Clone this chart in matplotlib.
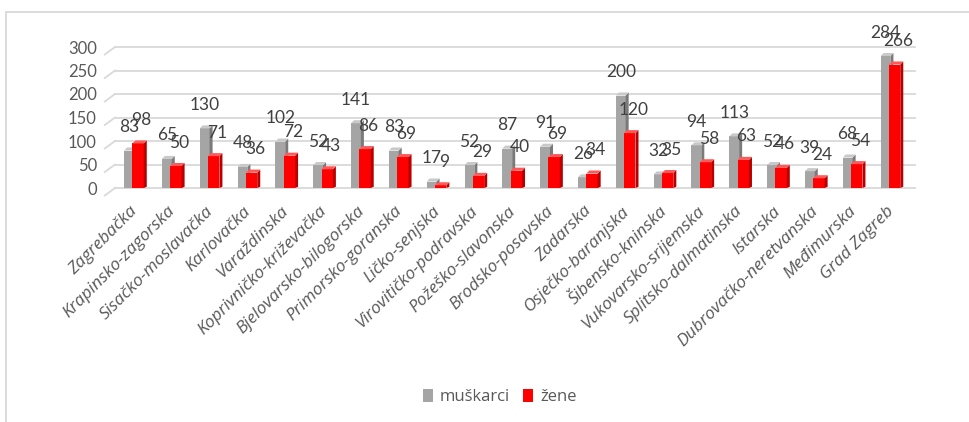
import matplotlib
matplotlib.use('Agg')
import matplotlib.pyplot as plt
from matplotlib.patches import Polygon, Rectangle

# podaci po zupanijama
zupanije = ['Zagrebačka', 'Krapinsko-zagorska', 'Sisačko-moslavačka', 'Karlovačka',
            'Varaždinska', 'Koprivničko-križevačka', 'Bjelovarsko-bilogorska',
            'Primorsko-goranska', 'Ličko-senjska', 'Virovitičko-podravska',
            'Požeško-slavonska', 'Brodsko-posavska', 'Zadarska', 'Osječko-baranjska',
            'Šibensko-kninska', 'Vukovarsko-srijemska', 'Splitsko-dalmatinska',
            'Istarska', 'Dubrovačko-neretvanska', 'Međimurska', 'Grad Zagreb']
muskarci = [83, 65, 130, 48, 102, 52, 141, 83, 17, 52, 87, 91, 26, 200, 32, 94, 113, 52, 39, 68, 284]
zene = [98, 50, 71, 36, 72, 43, 86, 69, 9, 29, 40, 69, 34, 120, 35, 58, 63, 46, 24, 54, 266]
y_ticks = [0, 50, 100, 150, 200, 250, 300]

plt.rcParams['font.family'] = ['Lato', 'DejaVu Sans']

W, H = 970, 422
fig = plt.figure(figsize=(W / 100, H / 100), dpi=100)
ax = fig.add_axes([115 / W, (H - 188) / H, 800 / W, 141 / H])
ax.set_xlim(-0.53, 20.62)
ax.set_ylim(0, 300)
for s in ax.spines.values():
    s.set_visible(False)

# depth of the fake 3d bars
dx = 0.08
dy = 6.5


def bar3d(x0, x1, h, front, side, top, z):
    hf = max(h - dy / 2, 0.5)
    ax.add_patch(Polygon([(x0, 0), (x1, 0), (x1, hf), (x0, hf)], closed=True,
                         fc=front, ec='none', zorder=z))
    ax.add_patch(Polygon([(x1, 0), (x1 + dx, dy * 0.4), (x1 + dx, hf + dy), (x1, hf)],
                         closed=True, fc=side, ec='none', zorder=z))
    ax.add_patch(Polygon([(x0, hf), (x1, hf), (x1 + dx, hf + dy), (x0 + dx, hf + dy)],
                         closed=True, fc=top, ec='none', zorder=z))


# gridlines with slanted left end
for v in y_ticks:
    ax.plot([-0.53, 20.62], [v, v], color='#d9d9d9', lw=1.3, zorder=0, clip_on=False)
    ax.plot([-0.80, -0.53], [v - 16, v], color='#d9d9d9', lw=1.3, zorder=0, clip_on=False)

for i, (m, z) in enumerate(zip(muskarci, zene)):
    bar3d(i - 0.29, i - 0.03, m, '#a5a5a5', '#7a7a7a', '#c9c9c9', 2)
    bar3d(i - 0.07, i + 0.23, z, '#ff0000', '#b80000', '#ff5a5a', 3)
    ax.annotate(str(m), (i - 0.16, m), xytext=(0, 22), textcoords='offset pixels',
                ha='center', va='center', fontsize=12.5, color='#404040', zorder=5)
    ax.annotate(str(z), (i + 0.17, z), xytext=(0, 22), textcoords='offset pixels',
                ha='center', va='center', fontsize=12.5, color='#404040', zorder=5)

ax.set_yticks(y_ticks)
ax.set_yticklabels([str(v) for v in y_ticks], fontsize=12, color='#595959')
ax.tick_params(axis='y', length=0, pad=13)
ax.set_xticks(range(len(zupanije)))
ax.set_xticklabels(zupanije, rotation=45, ha='right', va='center', rotation_mode='anchor',
                   fontsize=12.5, style='italic', color='#595959',
                   family=['Open Sans', 'DejaVu Sans'])
ax.tick_params(axis='x', length=0, pad=15)

# legenda
fig.legend(handles=[Rectangle((0, 0), 1, 1, fc='#a5a5a5'), Rectangle((0, 0), 1, 1, fc='#ff0000')],
           labels=['muškarci', 'žene'], loc='center', bbox_to_anchor=(500 / W, 1 - 397 / H),
           ncol=2, frameon=False, handlelength=0.6, handleheight=0.8,
           handletextpad=0.4, columnspacing=0.8, labelcolor='#595959',
           prop={'family': ['Open Sans', 'DejaVu Sans'], 'size': 12})

# okvir grafikona
fig.add_artist(Rectangle((6 / W, -0.1), 2, 0.1 + (H - 12) / H, fill=False,
                         ec='#d9d9d9', lw=1.3, transform=fig.transFigure))

fig.savefig('out.png', dpi=100)
